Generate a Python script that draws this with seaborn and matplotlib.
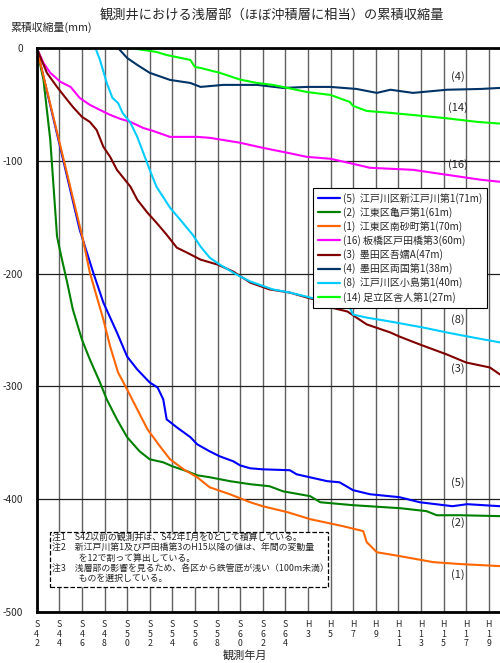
import numpy as np
import pandas as pd
import matplotlib
matplotlib.use('Agg')
import matplotlib.pyplot as plt
from matplotlib.patches import Rectangle
import seaborn as sns

# 各観測井の累積収縮量 (年, mm)
yr5 = [1967, 1970.8, 1972, 1972.9, 1974.1, 1975, 1975.9, 1977, 1977.7, 1978.2, 1978.5, 1979.4, 1980.6,
       1981.2, 1982.3, 1983.2, 1984.4, 1985, 1985.9, 1987, 1989.4, 1990, 1992.7, 1993.8, 1995, 1996.5,
       1999.1, 2000.9, 2003.8, 2005.1, 2008]
mm5 = [0, -161, -199, -225.7, -252.2, -273.5, -285, -296.5, -301, -311.5, -329.2, -336.3, -345,
       -351.3, -357.5, -362, -366.4, -370, -372.6, -373.5, -374.3, -377.9, -384, -385, -392, -395.6,
       -398.2, -402.7, -406.2, -404.4, -406.2]

yr2 = [1967, 1967.6, 1968.2, 1968.8, 1969.1, 1969.7, 1970.2, 1971, 1971.7, 1972.6, 1973.2, 1974.1, 1975,
       1976.1, 1977, 1978.2, 1979, 1980.3, 1981.2, 1982.3, 1984.1, 1985.9, 1987.6, 1988.8, 1991.2,
       1992.1, 1995, 1999.2, 2001.5, 2002.4, 2004.5, 2008]
mm2 = [0, -28.3, -81.4, -167, -181.4, -208, -231.9, -258.4, -276, -296.5, -311.5, -329.2, -345,
       -357.5, -364.6, -367.3, -370.8, -375.2, -378.8, -380.5, -384, -386.7, -388.5, -393, -397.3,
       -402.7, -405.3, -408, -410.6, -414.2, -414.2, -415]

yr1 = [1967, 1971.1, 1971.7, 1972.3, 1972.9, 1973.5, 1974.2, 1975, 1975.9, 1976.8, 1977.9, 1978.8, 1980,
       1981.2, 1982.3, 1984.1, 1985.9, 1987, 1989.2, 1991.2, 1994.1, 1995.9, 1996.2, 1997.1, 1999.1,
       2002.1, 2004.5, 2008]
mm1 = [0, -170, -199, -220, -240.7, -264.6, -287.6, -302.7, -320.4, -338, -353, -364.6, -373.5,
       -380.5, -389.4, -395.6, -402.7, -406.2, -411.5, -417.7, -423.9, -428.3, -438, -447, -450.4,
       -455.8, -457.5, -459.3]

yr16 = [1967, 1967.6, 1968.2, 1969.1, 1970, 1970.8, 1971.7, 1972.6, 1973.5, 1974.4, 1975.3, 1976.4, 1977.3,
        1978.8, 1981.2, 1982.3, 1985, 1987, 1989.2, 1990.9, 1993, 1995, 1996.5, 2000.3, 2003.3, 2006.3, 2008]
mm16 = [0, -13.3, -22, -30, -34.5, -44.2, -50.4, -54.9, -59.3, -62.8, -65.5, -70.8, -73.5,
        -78.8, -78.8, -79.6, -84, -88.5, -92.9, -96.5, -98.2, -102.7, -106.2, -108, -112.4, -116.8, -118.6]

yr3 = [1967, 1967.9, 1968.8, 1969.7, 1970.2, 1971, 1971.7, 1972.3, 1972.9, 1973.5, 1974.1, 1975.3, 1975.9,
       1976.8, 1977.6, 1978.5, 1979.4, 1980.3, 1981.5, 1983, 1984.4, 1985.9, 1987.6, 1989.4, 1990.9,
       1992.3, 1993, 1994.5, 1995.3, 1996.2, 1998.3, 1999.1, 2000.9, 2003.3, 2005, 2007.1, 2008]
mm3 = [0, -22, -34.5, -46, -52.2, -61, -65.5, -72.6, -87.6, -96.5, -108, -123, -134.5,
       -146, -154.9, -165.5, -177, -181.4, -187.6, -192, -198.2, -208, -214, -216.8, -221.2,
       -224.8, -230, -233.6, -239, -245, -252.2, -255.8, -262.8, -271.7, -278.8, -283.2, -289.4]

yr4 = [1974.2, 1975, 1975.9, 1977, 1978.8, 1980.6, 1981.5, 1983.5, 1986.5, 1988.8, 1990.9, 1993, 1995.3,
       1997.1, 1998.3, 2000.3, 2003.3, 2006.3, 2008]
mm4 = [0, -8.8, -15, -22, -28.3, -31, -34.5, -32.7, -32.7, -35.4, -34.5, -34.5, -36.3,
       -39.8, -37, -39.8, -37, -36.3, -35.4]

yr8 = [1972.2, 1972.6, 1973.2, 1973.7, 1974.2, 1974.6, 1975.3, 1975.9, 1976.6, 1977, 1977.6, 1978.8, 1979.7,
       1980.8, 1981.5, 1982.3, 1983.2, 1984.7, 1985.9, 1987.9, 1989.4, 1991.2, 1993, 1994.7, 1995,
       1996.2, 1998.3, 2001.2, 2003.3, 2005.6, 2008]
mm8 = [0, -10.6, -31, -44.2, -48.7, -57.5, -66.4, -78.8, -97.3, -108, -123, -141.6, -152.2,
       -165.5, -176, -185.8, -192, -200.9, -207, -214, -216.8, -221.2, -225.7, -230, -236.3,
       -239, -242.5, -247.8, -252.2, -256.6, -261]

yr14 = [1967, 1975.3, 1977.6, 1978.5, 1980.6, 1981, 1981.5, 1983.2, 1985, 1986.5, 1987.9, 1989.2, 1990.9,
        1993, 1994.7, 1995, 1996.2, 1998.3, 2003, 2006, 2008]
mm14 = [0, 0, -3.5, -6.2, -10.6, -16.8, -17.7, -22, -28, -31, -32.7, -35.4, -39,
        -41.6, -47.8, -51.3, -55.8, -57.5, -62, -65.5, -67]

names = ['(5)  江戸川区新江戸川第1(71m)', '(2)  江東区亀戸第1(61m)', '(1)  江東区南砂町第1(70m)',
         '(16) 板橋区戸田橋第3(60m)', '(3)  墨田区吾嬬A(47m)', '(4)  墨田区両国第1(38m)',
         '(8)  江戸川区小島第1(40m)', '(14) 足立区舎人第1(27m)']
colors = ['#0000FF', '#008000', '#FF6600', '#FF00FF', '#800000', '#003366', '#00CCFF', '#00FF00']
series = [(yr5, mm5), (yr2, mm2), (yr1, mm1), (yr16, mm16), (yr3, mm3), (yr4, mm4), (yr8, mm8), (yr14, mm14)]

tick_years = list(range(1967, 2008, 2))
tick_labels = ['S42', 'S44', 'S46', 'S48', 'S50', 'S52', 'S54', 'S56', 'S58', 'S60', 'S62', 'S64',
               'H3', 'H5', 'H7', 'H9', 'H11', 'H13', 'H15', 'H17', 'H19']

tags = ['(4)', '(14)', '(16)', '(8)', '(3)', '(5)', '(2)', '(1)']
tag_y = [-25.7, -53, -103.5, -240.7, -284, -385, -421, -466.4]

df = pd.concat([pd.DataFrame({'year': s[0], 'mm': s[1], 'name': n}) for n, s in zip(names, series)],
               ignore_index=True)

sns.set_style('white')
plt.rcParams['font.family'] = ['Noto Sans CJK JP', 'DejaVu Sans']
plt.rcParams['axes.unicode_minus'] = False

fig = plt.figure(figsize=(5, 6.63), dpi=100)
ax = fig.add_axes([0.0734, 0.0769, 0.9266, 0.8507])

sns.lineplot(data=df, x='year', y='mm', hue='name', hue_order=names, palette=colors,
             sort=False, estimator=None, lw=1.5, ax=ax)

ax.set_xlim(1967, 2008)
ax.set_ylim(-500, 0)
ax.set_xticks(tick_years)
ax.set_xticklabels(['\n'.join(t) for t in tick_labels], fontsize=6.3, linespacing=1.05, va='top')
ax.set_yticks([0, -100, -200, -300, -400, -500])
ax.set_yticklabels(['0', '-100', '-200', '-300', '-400', '-500'], fontsize=7.3)
ax.tick_params(axis='both', length=0)
ax.tick_params(axis='x', pad=6)
ax.tick_params(axis='y', pad=10)
ax.set_axisbelow(True)
ax.grid(axis='x', color='#606060', lw=1.0)
ax.grid(axis='y', color='#202020', lw=0.9)
ax.set_xlabel('')
ax.set_ylabel('')
for side in ['left', 'top', 'bottom']:
    ax.spines[side].set_linewidth(2)
    ax.spines[side].set_color('black')
ax.spines['right'].set_visible(False)

h, l = ax.get_legend_handles_labels()
leg = ax.legend(h, l, loc='upper left', bbox_to_anchor=(0.585, 0.761), fontsize=7.2,
                frameon=True, fancybox=False, edgecolor='black', framealpha=1,
                handlelength=2.2, handletextpad=0.3, labelspacing=0.32, borderpad=0.5)
leg.get_frame().set_linewidth(0.8)
for ln in leg.get_lines():
    ln.set_linewidth(1.6)

for t, yv in zip(tags, tag_y):
    ax.text(2004.3, yv, t, fontsize=8, ha='center', va='center')

# 注記
ax.add_patch(Rectangle((0.0287, 0.0443), 0.600, 0.0975, transform=ax.transAxes,
                       fc='white', ec='black', ls='--', lw=0.9, zorder=5))
note = ('注1　S42以前の観測井は、S42年1月を0として積算している。\n'
        '注2　新江戸川第1及び戸田橋第3のH15以降の値は、年間の変動量\n'
        '　　　を12で割って算出している。\n'
        '注3　浅層部の影響を見るため、各区から鉄管底が浅い（100m未満）\n'
        '　　　ものを選択している。')
ax.text(0.033, 0.139, note, transform=ax.transAxes, fontsize=6.4, va='top', ha='left',
        linespacing=1.15, zorder=6)

fig.text(0.543, 0.977, '観測井における浅層部（ほぼ沖積層に相当）の累積収縮量', ha='center', va='center',
         fontsize=9.5)
fig.text(0.02, 1 - 27 / 663, '累積収縮量(mm)', ha='left', va='center', fontsize=7.8)
fig.text(0.49, 1 - 655 / 663, '観測年月', ha='center', va='center', fontsize=8)

fig.savefig('out.png', dpi=100)
